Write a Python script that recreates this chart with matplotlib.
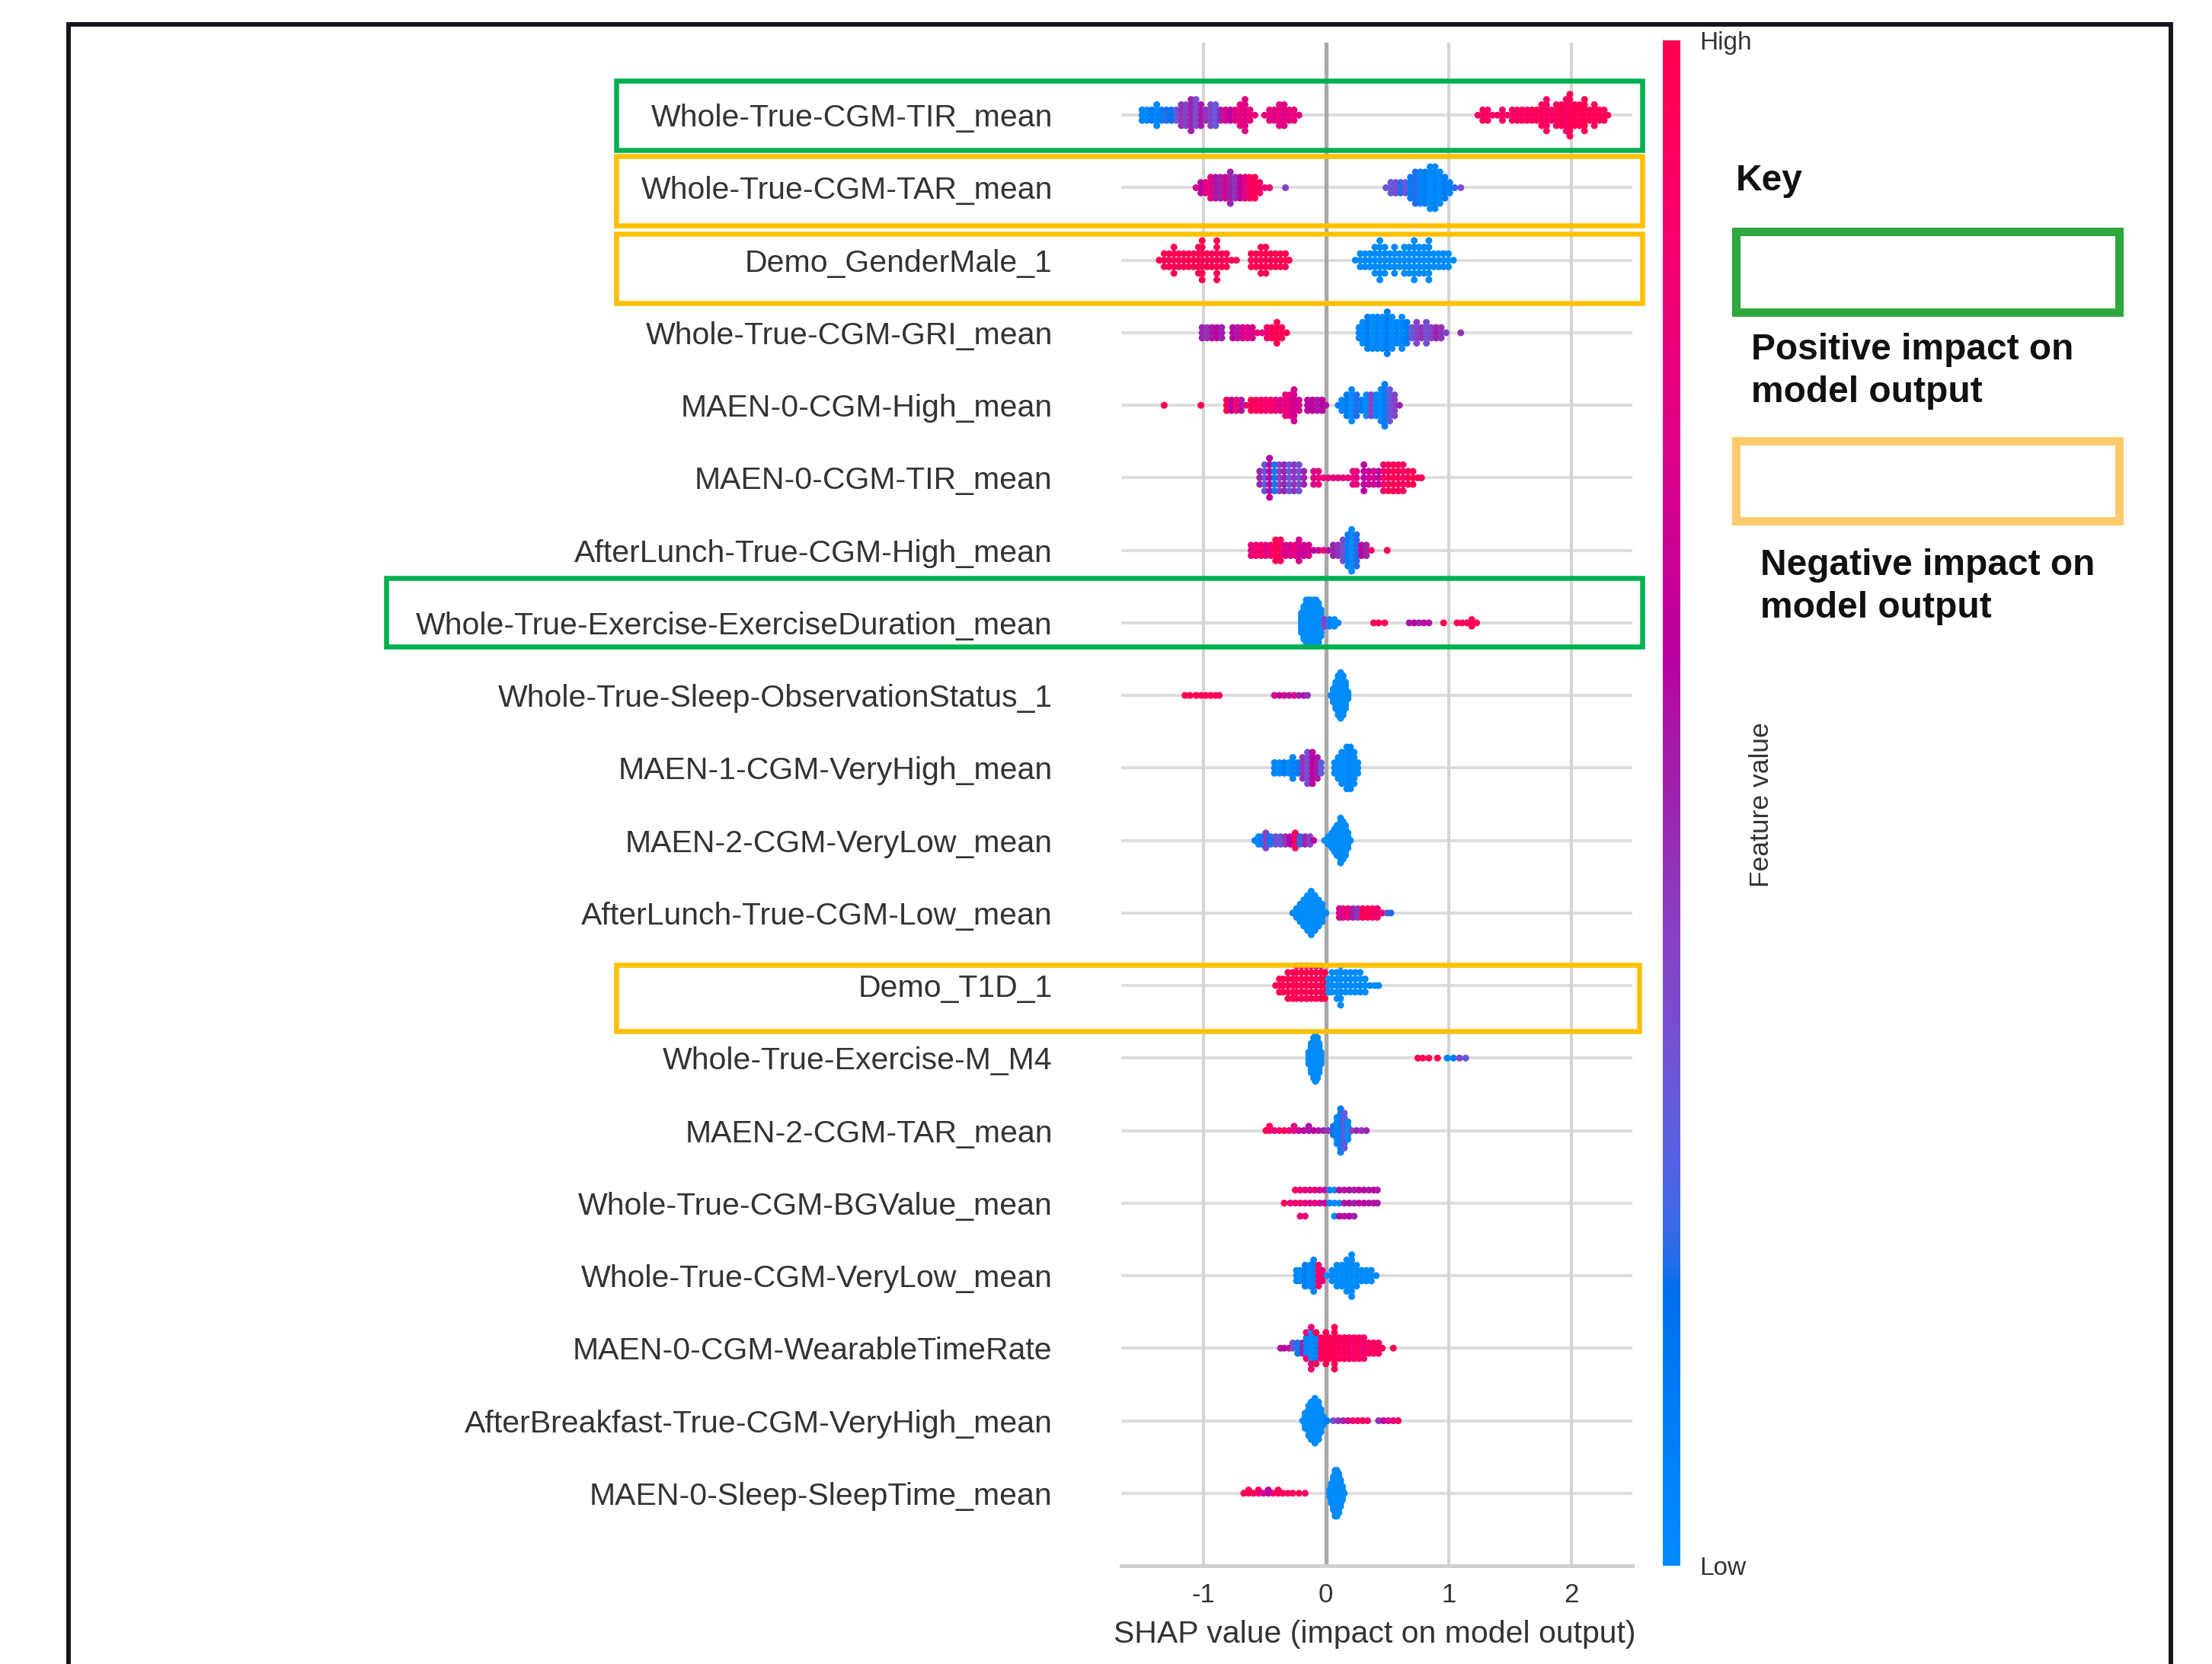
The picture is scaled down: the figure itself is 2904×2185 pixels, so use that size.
import numpy as np
import matplotlib
matplotlib.use('agg')
from matplotlib import pyplot as plt
from matplotlib.colors import LinearSegmentedColormap, Normalize
from matplotlib.cm import ScalarMappable
from matplotlib.patches import Rectangle
from matplotlib.lines import Line2D

plt.rcParams['font.family'] = ['Liberation Sans', 'DejaVu Sans']
plt.rcParams['axes.unicode_minus'] = False

# feature names, top to bottom
features = [
    "Whole-True-CGM-TIR_mean",
    "Whole-True-CGM-TAR_mean",
    "Demo_GenderMale_1",
    "Whole-True-CGM-GRI_mean",
    "MAEN-0-CGM-High_mean",
    "MAEN-0-CGM-TIR_mean",
    "AfterLunch-True-CGM-High_mean",
    "Whole-True-Exercise-ExerciseDuration_mean",
    "Whole-True-Sleep-ObservationStatus_1",
    "MAEN-1-CGM-VeryHigh_mean",
    "MAEN-2-CGM-VeryLow_mean",
    "AfterLunch-True-CGM-Low_mean",
    "Demo_T1D_1",
    "Whole-True-Exercise-M_M4",
    "MAEN-2-CGM-TAR_mean",
    "Whole-True-CGM-BGValue_mean",
    "Whole-True-CGM-VeryLow_mean",
    "MAEN-0-CGM-WearableTimeRate",
    "AfterBreakfast-True-CGM-VeryHigh_mean",
    "MAEN-0-Sleep-SleepTime_mean",
]

# each row: (shap value, number of samples, feature value 0=low .. 1=high)
tir_mean = [
    (-1.50, 3, 0.05), (-1.46, 3, 0.0), (-1.42, 3, 0.1), (-1.38, 5, 0.05), (-1.34, 3, 0.1),
    (-1.30, 3, 0.2), (-1.26, 3, 0.15), (-1.22, 3, 0.3), (-1.18, 5, 0.45), (-1.14, 5, 0.4),
    (-1.10, 7, 0.5), (-1.06, 6, 0.35), (-1.02, 5, 0.55), (-0.98, 3, 0.45), (-0.94, 5, 0.4),
    (-0.90, 5, 0.3), (-0.86, 3, 0.5), (-0.82, 3, 0.7), (-0.78, 3, 0.6), (-0.74, 3, 0.75),
    (-0.70, 5, 0.8), (-0.66, 7, 0.75), (-0.62, 3, 0.8), (-0.58, 1, 0.75), (-0.50, 1, 0.8),
    (-0.46, 3, 0.8), (-0.42, 3, 0.75), (-0.38, 5, 0.8), (-0.34, 5, 0.75), (-0.30, 3, 0.8),
    (-0.26, 3, 0.8), (-0.22, 1, 0.75),
    (1.24, 1, 0.9), (1.28, 3, 0.95), (1.32, 3, 0.9), (1.36, 1, 0.9), (1.40, 1, 0.95),
    (1.44, 3, 0.9), (1.48, 1, 0.9), (1.52, 3, 0.95), (1.56, 3, 0.9), (1.60, 3, 0.95),
    (1.64, 3, 0.9), (1.68, 3, 0.95), (1.72, 3, 1.0), (1.76, 5, 0.95), (1.80, 7, 0.9),
    (1.84, 3, 0.95), (1.88, 5, 0.9), (1.92, 5, 1.0), (1.96, 7, 0.9), (1.99, 9, 0.95),
    (2.03, 5, 1.0), (2.07, 5, 0.95), (2.11, 7, 1.0), (2.15, 3, 0.95), (2.19, 5, 0.95),
    (2.23, 3, 1.0), (2.27, 3, 0.95), (2.30, 1, 1.0),
]
tar_mean = [
    (-1.06, 1, 0.7), (-1.02, 3, 0.6), (-0.98, 3, 0.75), (-0.94, 5, 0.8), (-0.90, 5, 0.55),
    (-0.86, 5, 0.5), (-0.82, 5, 0.7), (-0.78, 7, 0.5), (-0.74, 5, 0.45), (-0.70, 5, 0.6),
    (-0.66, 5, 0.75), (-0.62, 5, 0.9), (-0.58, 5, 1.0), (-0.54, 3, 0.9), (-0.50, 1, 0.8),
    (-0.46, 1, 0.85), (-0.33, 1, 0.4),
    (0.49, 1, 0.35), (0.53, 3, 0.3), (0.57, 3, 0.35), (0.61, 3, 0.2), (0.65, 3, 0.3),
    (0.69, 5, 0.1), (0.73, 7, 0.2), (0.77, 7, 0.05), (0.81, 7, 0.1), (0.85, 9, 0.0),
    (0.89, 9, 0.05), (0.93, 7, 0.0), (0.97, 5, 0.1), (1.01, 3, 0.05), (1.05, 1, 0.2),
    (1.10, 1, 0.35),
]
gender_male = [
    (-1.36, 1, 1.0), (-1.32, 3, 1.0), (-1.28, 3, 1.0), (-1.24, 5, 1.0), (-1.20, 3, 1.0),
    (-1.16, 3, 1.0), (-1.12, 3, 1.0), (-1.08, 3, 1.0), (-1.04, 5, 1.0), (-1.01, 7, 1.0),
    (-0.97, 3, 1.0), (-0.93, 3, 1.0), (-0.89, 7, 1.0), (-0.85, 3, 1.0), (-0.81, 3, 1.0),
    (-0.77, 1, 1.0), (-0.73, 1, 1.0), (-0.61, 3, 1.0), (-0.57, 3, 1.0), (-0.53, 5, 1.0),
    (-0.49, 5, 1.0), (-0.45, 3, 1.0), (-0.41, 3, 1.0), (-0.37, 3, 1.0), (-0.33, 3, 1.0),
    (-0.30, 1, 1.0),
    (0.24, 1, 0.0), (0.28, 3, 0.0), (0.32, 3, 0.0), (0.36, 3, 0.0), (0.40, 5, 0.0),
    (0.44, 7, 0.0), (0.48, 5, 0.0), (0.52, 3, 0.0), (0.56, 5, 0.0), (0.60, 3, 0.0),
    (0.64, 5, 0.0), (0.68, 5, 0.0), (0.72, 7, 0.0), (0.76, 5, 0.0), (0.80, 5, 0.0),
    (0.84, 7, 0.0), (0.88, 3, 0.0), (0.92, 3, 0.0), (0.96, 3, 0.0), (1.00, 3, 0.0),
    (1.04, 1, 0.0),
]
gri_mean = [
    (-1.01, 3, 0.5), (-0.97, 3, 0.45), (-0.93, 3, 0.55), (-0.89, 3, 0.6), (-0.85, 3, 0.5),
    (-0.76, 3, 0.6), (-0.72, 3, 0.55), (-0.68, 3, 0.7), (-0.64, 3, 0.75), (-0.60, 3, 0.7),
    (-0.56, 1, 0.8), (-0.52, 1, 0.75), (-0.48, 3, 0.85), (-0.44, 3, 1.0), (-0.40, 5, 1.0),
    (-0.36, 3, 0.95), (-0.32, 1, 1.0),
    (0.27, 3, 0.05), (0.30, 5, 0.0), (0.34, 7, 0.1), (0.38, 7, 0.0), (0.42, 7, 0.05),
    (0.46, 7, 0.0), (0.50, 9, 0.1), (0.54, 7, 0.0), (0.58, 5, 0.05), (0.62, 7, 0.0),
    (0.66, 5, 0.1), (0.70, 3, 0.3), (0.74, 5, 0.4), (0.78, 3, 0.45), (0.82, 5, 0.35),
    (0.86, 3, 0.4), (0.90, 3, 0.5), (0.94, 3, 0.45), (0.98, 1, 0.4), (1.10, 1, 0.45),
]
maen0_high = [
    (-1.32, 1, 1.0), (-1.02, 1, 1.0), (-0.81, 3, 1.0), (-0.77, 3, 0.6), (-0.73, 3, 0.9),
    (-0.69, 3, 0.55), (-0.65, 1, 0.8), (-0.61, 3, 1.0), (-0.57, 3, 0.9), (-0.53, 3, 0.95),
    (-0.49, 3, 0.85), (-0.45, 3, 0.9), (-0.41, 3, 0.8), (-0.37, 3, 0.75), (-0.33, 5, 0.8),
    (-0.29, 5, 0.75), (-0.26, 7, 0.7), (-0.22, 3, 0.7), (-0.15, 3, 0.6), (-0.11, 3, 0.6),
    (-0.07, 3, 0.55), (-0.03, 3, 0.6), (0.00, 1, 0.55),
    (0.10, 1, 0.1), (0.13, 3, 0.05), (0.17, 5, 0.1), (0.21, 7, 0.0), (0.25, 5, 0.2),
    (0.29, 3, 0.1), (0.33, 5, 0.0), (0.37, 5, 0.4), (0.41, 5, 0.05), (0.45, 7, 0.0),
    (0.48, 9, 0.1), (0.52, 7, 0.3), (0.56, 5, 0.4), (0.60, 1, 0.5),
]
maen0_tir = [
    (-0.54, 3, 0.5), (-0.50, 5, 0.3), (-0.46, 7, 0.6), (-0.42, 5, 0.1), (-0.38, 5, 0.4),
    (-0.34, 5, 0.5), (-0.30, 5, 0.3), (-0.26, 5, 0.45), (-0.22, 5, 0.35), (-0.18, 3, 0.5),
    (-0.10, 3, 0.75), (-0.06, 3, 0.8), (-0.02, 1, 0.85), (0.02, 1, 0.8), (0.06, 1, 0.75),
    (0.10, 1, 0.8), (0.14, 1, 0.8), (0.18, 1, 0.85), (0.22, 3, 0.8), (0.25, 3, 0.75),
    (0.31, 5, 0.6), (0.35, 3, 0.65), (0.39, 3, 0.7), (0.43, 3, 0.6), (0.47, 5, 0.85),
    (0.51, 5, 1.0), (0.55, 5, 0.95), (0.59, 5, 1.0), (0.63, 5, 0.9), (0.67, 3, 1.0),
    (0.71, 3, 1.0), (0.75, 1, 1.0), (0.78, 1, 0.95),
]
lunch_high = [
    (-0.61, 3, 0.8), (-0.57, 3, 0.85), (-0.53, 3, 0.9), (-0.49, 3, 0.75), (-0.45, 3, 0.85),
    (-0.41, 5, 1.0), (-0.37, 5, 0.9), (-0.33, 3, 0.7), (-0.29, 3, 0.75), (-0.25, 3, 0.8),
    (-0.22, 5, 0.7), (-0.18, 3, 0.65), (-0.14, 3, 0.7), (-0.10, 1, 0.6), (-0.06, 1, 0.65),
    (-0.02, 1, 0.9),
    (0.02, 1, 0.55), (0.06, 3, 0.5), (0.10, 3, 0.45), (0.14, 5, 0.35), (0.18, 7, 0.1),
    (0.21, 9, 0.0), (0.25, 7, 0.2), (0.29, 3, 0.6), (0.33, 3, 0.5), (0.37, 1, 0.9),
    (0.50, 1, 1.0),
]
exercise_duration = [
    (-0.20, 7, 0.0), (-0.18, 11, 0.0), (-0.16, 15, 0.0), (-0.14, 15, 0.0), (-0.12, 15, 0.0),
    (-0.10, 15, 0.0), (-0.08, 15, 0.0), (-0.06, 13, 0.0), (-0.04, 9, 0.0),
    (-0.01, 3, 0.4), (0.03, 3, 0.05), (0.07, 3, 0.0), (0.10, 1, 0.0),
    (0.39, 1, 1.0), (0.43, 1, 0.95), (0.48, 1, 1.0), (0.68, 1, 0.55), (0.72, 1, 0.6),
    (0.76, 1, 0.5), (0.80, 1, 0.65), (0.84, 1, 0.55), (0.96, 1, 1.0), (1.07, 1, 0.95),
    (1.11, 1, 1.0), (1.15, 1, 0.9), (1.19, 3, 1.0), (1.23, 1, 0.95),
]
sleep_status = [
    (-1.15, 1, 1.0), (-1.11, 1, 0.95), (-1.06, 1, 1.0), (-1.02, 1, 1.0), (-0.98, 1, 0.95),
    (-0.94, 1, 1.0), (-0.90, 1, 1.0), (-0.87, 1, 0.9),
    (-0.42, 1, 0.75), (-0.38, 1, 0.6), (-0.34, 1, 0.7), (-0.30, 1, 0.55), (-0.26, 1, 0.8),
    (-0.22, 1, 0.5), (-0.18, 1, 0.55), (-0.15, 1, 0.45),
    (0.04, 1, 0.0), (0.06, 5, 0.0), (0.08, 9, 0.0), (0.10, 13, 0.0), (0.12, 15, 0.0),
    (0.14, 13, 0.0), (0.16, 9, 0.0), (0.18, 3, 0.0),
]
maen1_veryhigh = [
    (-0.42, 3, 0.05), (-0.38, 3, 0.0), (-0.34, 3, 0.1), (-0.30, 3, 0.0), (-0.27, 5, 0.05),
    (-0.23, 3, 0.1), (-0.19, 5, 0.45), (-0.15, 7, 0.35), (-0.11, 7, 0.6), (-0.07, 5, 0.55),
    (-0.04, 3, 0.3),
    (0.07, 3, 0.0), (0.10, 5, 0.0), (0.13, 7, 0.0), (0.17, 9, 0.0), (0.20, 9, 0.05),
    (0.23, 7, 0.0), (0.26, 3, 0.0),
]
maen2_verylow = [
    (-0.58, 1, 0.1), (-0.55, 3, 0.0), (-0.52, 3, 0.1), (-0.49, 5, 0.4), (-0.45, 3, 0.1),
    (-0.41, 3, 0.35), (-0.37, 3, 0.3), (-0.33, 3, 0.45), (-0.29, 3, 0.6), (-0.25, 5, 0.9),
    (-0.21, 3, 0.2), (-0.17, 3, 0.5), (-0.13, 3, 0.4), (-0.10, 1, 0.6),
    (-0.01, 1, 0.0), (0.02, 3, 0.0), (0.05, 5, 0.0), (0.07, 7, 0.0), (0.09, 9, 0.0),
    (0.12, 13, 0.0), (0.14, 11, 0.0), (0.16, 9, 0.0), (0.18, 5, 0.0), (0.20, 1, 0.0),
]
lunch_low = [
    (-0.27, 1, 0.0), (-0.24, 3, 0.0), (-0.21, 5, 0.0), (-0.18, 7, 0.0), (-0.15, 9, 0.0),
    (-0.12, 11, 0.0), (-0.09, 9, 0.0), (-0.06, 7, 0.0), (-0.03, 5, 0.0), (0.00, 1, 0.0),
    (0.11, 3, 0.7), (0.14, 3, 0.75), (0.18, 3, 0.85), (0.22, 3, 0.5), (0.26, 3, 0.45),
    (0.30, 3, 0.95), (0.34, 3, 1.0), (0.38, 3, 0.9), (0.42, 3, 0.85), (0.46, 1, 0.8),
    (0.50, 1, 0.3), (0.53, 1, 0.2),
]
t1d = [
    (-0.41, 1, 1.0), (-0.38, 3, 1.0), (-0.35, 3, 1.0), (-0.31, 5, 1.0), (-0.27, 5, 1.0),
    (-0.24, 6, 1.0), (-0.20, 6, 1.0), (-0.16, 6, 1.0), (-0.12, 6, 1.0), (-0.08, 6, 1.0),
    (-0.04, 6, 1.0), (-0.01, 5, 1.0),
    (0.02, 3, 0.0), (0.05, 4, 0.0), (0.09, 5, 0.0), (0.12, 7, 0.0), (0.16, 4, 0.0),
    (0.20, 4, 0.0), (0.24, 4, 0.0), (0.28, 4, 0.0), (0.32, 3, 0.0), (0.36, 1, 0.0),
    (0.40, 1, 0.0), (0.43, 1, 0.0),
]
exercise_m4 = [
    (-0.14, 5, 0.0), (-0.12, 11, 0.0), (-0.10, 15, 0.0), (-0.085, 17, 0.0), (-0.07, 15, 0.0),
    (-0.055, 11, 0.0), (-0.04, 5, 0.0),
    (0.75, 1, 1.0), (0.79, 1, 0.95), (0.84, 1, 1.0), (0.91, 1, 1.0), (0.99, 1, 0.05),
    (1.04, 1, 0.1), (1.09, 1, 0.4), (1.14, 1, 0.3),
]
maen2_tar = [
    (-0.49, 1, 1.0), (-0.46, 2, 0.95), (-0.42, 1, 0.75), (-0.38, 1, 0.9), (-0.34, 1, 1.0),
    (-0.30, 1, 0.8), (-0.26, 2, 0.75), (-0.22, 1, 0.65), (-0.18, 1, 0.6), (-0.14, 2, 0.55),
    (-0.10, 1, 0.6), (-0.06, 1, 0.55), (-0.02, 1, 0.5), (0.02, 1, 0.45),
    (0.06, 3, 0.2), (0.09, 7, 0.05), (0.12, 11, 0.1), (0.15, 9, 0.3), (0.18, 5, 0.0),
    (0.21, 1, 0.4), (0.25, 1, 0.5), (0.29, 1, 0.45), (0.33, 1, 0.5),
]
bgvalue = [
    (-0.34, 1, 1.0), (-0.29, 1, 0.8), (-0.25, 2, 0.9), (-0.21, 3, 0.85), (-0.17, 3, 0.8),
    (-0.13, 2, 0.75), (-0.09, 2, 0.8), (-0.05, 2, 0.7), (-0.01, 2, 0.65), (0.03, 2, 0.05),
    (0.07, 1, 0.0), (0.07, 2, 0.0), (0.11, 1, 0.05), (0.11, 2, 0.6), (0.15, 3, 0.55),
    (0.19, 3, 0.6), (0.23, 3, 0.5), (0.27, 2, 0.65), (0.31, 2, 0.6), (0.35, 2, 0.55),
    (0.39, 2, 0.6), (0.42, 2, 0.55),
]
verylow_mean = [
    (-0.24, 3, 0.05), (-0.21, 3, 0.0), (-0.17, 5, 0.1), (-0.13, 5, 0.0), (-0.10, 7, 0.05),
    (-0.06, 5, 0.9), (-0.03, 3, 0.8), (0.01, 1, 0.0),
    (0.05, 3, 0.0), (0.09, 5, 0.0), (0.13, 5, 0.0), (0.17, 7, 0.0), (0.21, 9, 0.0),
    (0.25, 5, 0.0), (0.29, 3, 0.0), (0.33, 3, 0.0), (0.37, 3, 0.0), (0.41, 1, 0.0),
]
wearable_rate = [
    (-0.37, 1, 0.55), (-0.34, 1, 0.6), (-0.30, 1, 0.7), (-0.27, 2, 0.35), (-0.23, 3, 0.1),
    (-0.19, 3, 0.5), (-0.16, 4, 0.05), (-0.16, 2, 0.85), (-0.12, 6, 0.0), (-0.12, 3, 0.8),
    (-0.08, 5, 0.05), (-0.08, 2, 1.0), (-0.04, 5, 0.9), (0.00, 7, 1.0), (0.03, 5, 0.95),
    (0.07, 9, 1.0), (0.11, 5, 0.9), (0.15, 5, 1.0), (0.19, 5, 0.85), (0.23, 5, 0.9),
    (0.27, 5, 0.95), (0.31, 5, 0.85), (0.35, 3, 0.9), (0.39, 3, 0.95), (0.43, 3, 0.9),
    (0.46, 1, 1.0), (0.55, 1, 1.0),
]
breakfast_veryhigh = [
    (-0.19, 1, 0.0), (-0.17, 5, 0.0), (-0.14, 9, 0.0), (-0.12, 11, 0.0), (-0.09, 13, 0.0),
    (-0.06, 11, 0.0), (-0.04, 7, 0.0), (-0.02, 3, 0.0), (0.01, 1, 0.1),
    (0.06, 1, 0.35), (0.10, 1, 0.45), (0.14, 1, 0.5), (0.18, 1, 0.7), (0.22, 1, 0.85),
    (0.26, 1, 0.9), (0.30, 1, 1.0), (0.34, 1, 0.85), (0.43, 1, 0.45), (0.47, 1, 0.6),
    (0.51, 1, 0.75), (0.55, 1, 0.8), (0.59, 1, 0.9),
]
sleep_time = [
    (-0.67, 1, 1.0), (-0.63, 2, 0.95), (-0.59, 1, 1.0), (-0.55, 2, 0.85), (-0.51, 1, 0.7),
    (-0.47, 2, 0.6), (-0.43, 1, 0.8), (-0.39, 2, 0.95), (-0.35, 1, 1.0), (-0.31, 1, 0.9),
    (-0.27, 1, 0.95), (-0.22, 1, 1.0), (-0.17, 1, 0.85),
    (0.03, 3, 0.0), (0.045, 7, 0.0), (0.06, 11, 0.0), (0.075, 15, 0.0), (0.09, 15, 0.0),
    (0.105, 13, 0.0), (0.12, 9, 0.0), (0.135, 5, 0.0), (0.15, 1, 0.0),
]

rows = [tir_mean, tar_mean, gender_male, gri_mean, maen0_high, maen0_tir, lunch_high,
        exercise_duration, sleep_status, maen1_veryhigh, maen2_verylow, lunch_low, t1d,
        exercise_m4, maen2_tar, bgvalue, verylow_mean, wearable_rate, breakfast_veryhigh,
        sleep_time]

xticks = [-1, 0, 1, 2]


def lch2rgb(l, c, h):
    a, b = c * np.cos(h), c * np.sin(h)
    fy_ = (l + 16) / 116.0
    f = np.array([fy_ + a / 500.0, fy_, fy_ - b / 200.0])
    xyz = np.where(f ** 3 > 0.008856, f ** 3, (f - 16 / 116.0) / 7.787)
    xyz *= np.array([0.95047, 1.0, 1.08883])
    m = np.array([[3.2406, -1.5372, -0.4986],
                  [-0.9689, 1.8758, 0.0415],
                  [0.0557, -0.2040, 1.0570]])
    rgb = m @ xyz
    rgb = np.where(rgb > 0.0031308, 1.055 * np.abs(rgb) ** (1 / 2.4) - 0.055, 12.92 * rgb)
    return np.clip(rgb, 0, 1)


def shap_red_blue(nsteps=100):
    # same lab-space blend shap uses for its beeswarm colouring
    blue_lch = [54.0, 70.0, 4.6588]
    red_lch = [54.0, 90.0, 0.35470565 + 2 * np.pi]
    l_vals = list(np.linspace(blue_lch[0], 40.0, nsteps // 2)) + \
        list(np.linspace(40.0, red_lch[0], nsteps // 2))
    c_vals = np.linspace(blue_lch[1], red_lch[1], nsteps)
    h_vals = np.linspace(blue_lch[2], red_lch[2], nsteps)
    cols = [lch2rgb(l, c, h) for l, c, h in zip(l_vals, c_vals, h_vals)]
    return LinearSegmentedColormap.from_list('red_blue', cols)


def swarm_offsets(shaps, row_height=0.4):
    nbins = 100
    quant = np.round(nbins * (shaps - shaps.min()) / (shaps.max() - shaps.min() + 1e-8))
    inds = np.argsort(quant, kind='stable')
    ys = np.zeros(len(shaps))
    layer, last_bin = 0, -1
    for ind in inds:
        if quant[ind] != last_bin:
            layer = 0
        ys[ind] = np.ceil(layer / 2) * ((layer % 2) * 2 - 1)
        layer += 1
        last_bin = quant[ind]
    ys *= 0.9 * (row_height / np.max(ys + 1))
    return ys


W, H = 2904, 2185
def fx(x):
    return x / W
def fy(y):
    return 1 - y / H

cmap = shap_red_blue()
fig = plt.figure(figsize=(W / 100, H / 100), dpi=100)
ax = fig.add_axes([fx(1472), fy(2056), (2143 - 1472) / W, (2056 - 56) / H])

n = len(features)
for v in xticks:
    if v != 0:
        ax.axvline(v, color='#d4d4d4', lw=3.0, zorder=0)
ax.axvline(0, color='#a8a8a8', lw=3.8, zorder=1)
for k in range(n):
    ax.axhline(n - 1 - k, color='#dddddd', lw=2.9, zorder=-1)

for k, row in enumerate(rows):
    shaps = np.repeat([t[0] for t in row], [t[1] for t in row]).astype(float)
    vals = np.repeat([t[2] for t in row], [t[1] for t in row])
    ys = swarm_offsets(shaps)
    ax.scatter(shaps, n - 1 - k + ys, c=vals, cmap=cmap, vmin=0, vmax=1, s=42,
               linewidths=0, zorder=3)

ax.set_xlim(-1.67, 2.50)
ax.set_ylim(-1, n)
ax.set_xticks(xticks)
ax.set_xticklabels([str(v) for v in xticks])
ax.set_yticks(range(n))
ax.set_yticklabels(features[::-1])
ax.tick_params(axis='x', length=0, pad=16, labelsize=25, labelcolor='#333333')
ax.tick_params(axis='y', length=0, pad=65, labelsize=29.5, labelcolor='#333333')
for side in ['top', 'left', 'right']:
    ax.spines[side].set_visible(False)
ax.spines['bottom'].set_color('#d0d0d0')
ax.spines['bottom'].set_linewidth(3.6)
fig.text(fx(1805), fy(2157), "SHAP value (impact on model output)", ha='center',
         va='baseline', size=29.5, color='#333333')

# colour bar
cax = fig.add_axes([fx(2183), fy(2056), 23 / W, (2056 - 53) / H])
cb = fig.colorbar(ScalarMappable(norm=Normalize(0, 1), cmap=cmap), cax=cax, ticks=[0, 1])
cb.set_ticklabels(['Low', 'High'])
cb.outline.set_visible(False)
cax.tick_params(length=0, pad=18, labelsize=24, labelcolor='#333333')
fig.text(fx(2312), fy(1057), "Feature value", rotation=90, ha='center', va='center',
         size=25.5, color='#333333')


def box(x0, y0, x1, y1, color, lw):
    fig.add_artist(Rectangle((fx(x0), fy(y1)), (x1 - x0) / W, (y1 - y0) / H,
                             transform=fig.transFigure, fill=False, ec=color, lw=lw,
                             joinstyle='miter', zorder=10))


# highlight boxes over the plot
box(809, 106, 2156, 197, '#00b050', 4.7)
box(809, 205, 2156, 296, '#ffc000', 4.7)
box(809, 307, 2156, 398, '#ffc000', 4.7)
box(507, 759, 2156, 849, '#00b050', 4.7)
box(809, 1267, 2152, 1354, '#ffc000', 4.7)

# key
box(2279, 304, 2782, 410, '#2ca83c', 8)
box(2279, 579, 2782, 684, '#fdcb6b', 8)
key_kw = dict(weight='bold', size=34.5, color='#111111', va='baseline')
fig.text(fx(2279), fy(250), "Key", **key_kw)
fig.text(fx(2299), fy(472), "Positive impact on", **key_kw)
fig.text(fx(2299), fy(528), "model output", **key_kw)
fig.text(fx(2311), fy(755), "Negative impact on", **key_kw)
fig.text(fx(2311), fy(811), "model output", **key_kw)

# outer frame of the slide
fig.add_artist(Line2D([fx(90), fx(90), fx(2850), fx(2850)],
                      [fy(H + 20), fy(32), fy(32), fy(H + 20)],
                      transform=fig.transFigure, color='#13161f', lw=4.3,
                      solid_joinstyle='miter'))

fig.savefig('out.png', dpi=100)
